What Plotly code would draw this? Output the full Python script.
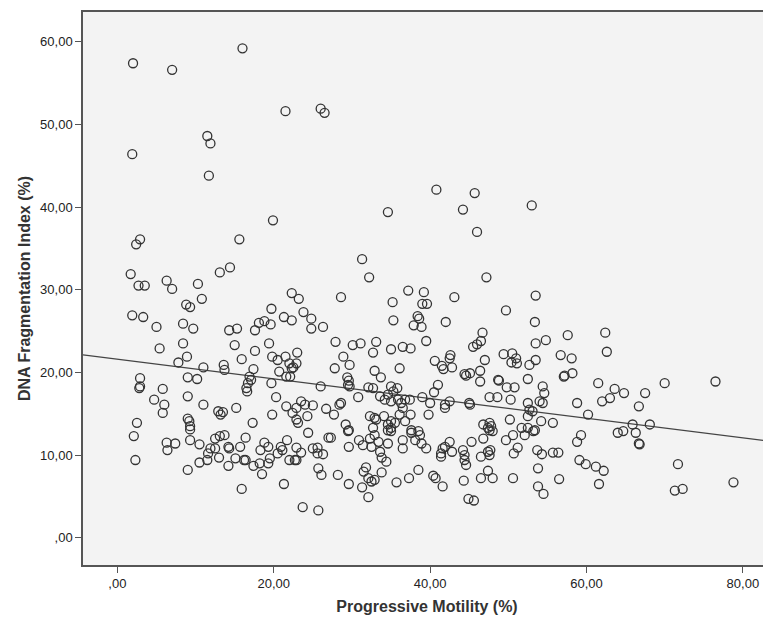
import plotly.graph_objects as go

# Progressive motility (%) and DNA fragmentation index (%)
motility = [
2.0,7.0,16.0,21.5,11.5,11.9,1.9,26.0,26.5,
11.7,19.9,2.9,2.4,15.6,14.4,13.1,1.7,2.7,3.5,6.3,7.0,10.3,22.3,
40.8,45.7,44.2,34.6,53.0,46.0,31.3,32.2,47.2,
10.8,8.8,9.3,1.9,3.3,5.0,8.4,9.7,5.4,8.4,8.9,7.8,11.0,13.6,13.7,15.0,15.9,14.3,15.3,17.6,18.1,18.8,19.6,19.7,21.3,22.3,23.2,23.8,24.8,24.8,19.4,17.6,19.8,20.5,21.5,23.0,22.0,22.5,22.9,22.3,20.7,21.6,22.1,17.4,16.9,17.1,16.7,16.5,16.6,19.7,2.9,2.9,2.8,9.0,10.2,5.8,9.0,4.7,6.0,5.8,11.0,12.9,13.5,13.2,15.2,20.3,21.6,23.5,24.0,22.9,22.4,22.9,23.1,24.3,19.8,17.3,2.5,9.0,9.2,9.3,
2.1,2.3,9.3,6.3,7.4,6.4,9.3,10.5,9.0,10.5,11.5,11.6,11.9,12.5,13.1,13.7,12.5,13.0,14.2,14.3,14.2,16.4,15.7,15.1,16.2,16.4,15.9,17.4,18.2,18.5,18.3,18.8,19.3,19.3,19.5,20.5,20.9,21.1,21.7,21.3,22.0,22.7,22.9,22.9,23.5,24.4,23.7,25.0,
28.6,37.2,39.2,43.1,35.2,39.0,39.6,35.3,38.4,38.6,37.9,38.9,42.0,49.7,53.4,26.3,27.9,30.1,31.1,33.1,32.7,35.0,36.5,37.5,39.5,46.7,46.5,46.0,45.5,28.9,29.7,27.8,32.9,33.7,36.1,40.6,41.5,41.7,42.6,42.5,42.8,44.4,44.6,45.1,46.4,46.4,47.0,48.7,48.8,49.4,50.5,51.0,51.1,50.4,52.7,52.5,53.5,53.5,49.8,50.8,50.3,47.6,48.6,45.1,45.0,42.5,41.9,41.9,41.0,40.5,40.0,39.0,39.8,35.8,35.0,34.6,35.3,33.6,34.2,35.0,35.9,36.8,37.4,32.1,32.7,30.8,29.4,29.6,29.5,29.7,26.0,25.0,26.7,27.7,28.4,28.6,29.2,29.6,32.3,32.9,33.1,34.1,32.7,34.6,35.0,35.5,35.0,36.3,36.5,36.1,36.8,37.5,37.6,38.5,47.6,47.8,47.4,46.8,50.2,51.7,52.5,52.5,52.7,52.5,
53.5,54.8,57.6,62.4,62.6,56.7,58.1,57.1,57.2,58.2,54.4,54.6,54.0,54.4,58.8,61.5,63.6,64.8,63.0,62.0,67.5,70.0,76.5,66.7,60.2,54.2,55.7,65.9,68.1,53.1,
53.4,59.3,58.8,64.0,64.7,66.3,66.7,66.8,53.7,54.3,55.7,56.4,53.8,59.1,59.9,61.2,62.2,56.5,61.6,53.8,54.5,71.7,71.3,72.3,78.8,
27.0,27.3,29.5,25.6,25.6,26.3,25.7,26.1,25.7,28.2,29.6,29.6,30.9,31.4,32.3,32.5,32.9,33.4,34.6,33.6,33.8,34.4,31.5,31.8,32.1,32.5,32.9,31.3,32.1,33.8,35.7,37.3,38.5,36.5,36.5,37.6,38.1,38.7,38.9,39.5,34.6,35.0,40.4,40.7,41.6,41.4,41.6,41.9,42.5,42.8,41.4,44.2,44.4,44.6,44.4,45.3,44.3,44.9,45.6,46.5,46.8,47.4,47.6,47.7,47.4,46.5,48.0,47.6,48.0,49.7,50.6,52.1,53.2,51.2,50.7,50.6,
]
dfi = [
57.4,56.6,59.2,51.6,48.6,47.7,46.4,51.9,51.4,
43.8,38.4,36.1,35.5,36.1,32.7,32.1,31.9,30.5,30.5,31.1,30.1,30.7,29.6,
42.1,41.7,39.7,39.4,40.2,37.0,33.7,31.5,31.5,
28.9,28.2,27.9,26.9,26.7,25.5,25.9,25.3,22.9,23.5,21.9,21.2,20.6,20.9,20.3,23.3,21.6,25.1,25.3,25.1,26.0,26.2,25.8,27.7,26.7,26.3,28.9,27.3,26.5,25.3,23.5,22.6,21.9,21.5,21.9,22.4,21.1,20.6,21.1,20.5,20.1,19.5,19.5,20.4,19.5,19.1,18.7,18.1,17.7,18.7,19.3,18.3,18.1,19.4,19.2,18.0,17.1,16.7,16.1,15.1,16.1,15.3,15.2,14.9,15.7,17.0,15.9,16.5,16.1,15.7,15.1,14.3,13.9,14.7,14.9,13.9,13.9,14.4,14.1,13.5,
12.3,9.4,13.1,11.5,11.4,10.6,11.8,11.3,8.2,9.1,9.4,10.2,10.8,12.0,12.3,12.4,10.8,9.7,11.0,10.8,8.7,12.1,11.0,9.6,9.4,9.4,5.9,8.7,9.0,7.7,10.6,11.5,11.0,9.0,9.6,10.2,11.0,10.6,11.8,6.5,9.4,9.4,9.4,10.9,10.3,12.7,3.7,10.8,
29.1,29.9,29.7,29.1,28.5,28.3,28.3,26.3,26.8,26.5,25.7,25.5,26.1,27.5,26.1,25.5,23.7,23.3,23.5,23.7,22.4,22.8,23.1,22.9,23.8,24.8,23.8,23.4,23.1,21.9,20.9,20.5,20.2,19.4,20.5,21.4,20.8,20.4,22.1,21.7,20.6,19.8,19.6,19.9,20.2,18.9,21.5,19.1,19.0,22.2,22.3,21.7,21.1,21.2,20.9,19.2,23.5,21.5,18.2,18.2,16.7,17.0,17.0,16.1,16.3,16.5,16.1,15.7,18.5,17.6,16.3,17.0,14.9,18.1,18.3,17.3,17.7,17.1,16.7,16.5,16.7,16.7,16.7,18.2,18.1,17.0,19.4,19.0,18.5,18.3,18.3,16.0,15.6,14.9,16.1,16.3,13.7,13.0,14.7,14.5,14.3,14.7,13.3,13.7,14.1,13.9,13.3,16.3,15.7,14.9,14.1,14.9,13.0,12.9,13.9,13.5,13.3,13.7,14.3,13.3,13.3,16.3,15.5,14.7,
29.3,23.9,24.5,24.8,22.5,22.1,21.7,19.5,19.6,19.9,18.3,17.5,16.5,16.3,16.3,18.7,18.0,17.5,16.9,16.5,17.5,18.7,18.9,15.9,14.9,14.1,13.9,13.7,13.7,15.3,
13.0,12.4,11.6,12.7,12.9,12.7,11.4,11.3,10.6,10.1,10.3,10.3,8.4,9.4,8.9,8.6,8.1,7.1,6.5,6.2,5.3,8.9,5.7,5.9,6.7,
12.1,12.1,12.9,10.9,10.2,10.1,8.4,7.6,3.3,7.6,11.0,6.5,11.8,11.2,12.0,11.0,12.4,11.6,11.4,10.4,9.7,9.2,8.0,8.5,7.2,6.8,7.0,6.1,4.9,7.9,6.7,7.2,8.2,11.8,10.8,12.7,11.8,12.4,11.4,10.8,13.0,12.9,7.5,7.2,6.2,10.2,10.8,11.0,11.6,10.4,9.8,10.6,9.4,8.8,10.0,11.6,6.9,4.7,4.5,9.8,12.0,10.4,10.0,10.6,8.1,7.2,7.2,13.0,12.9,11.8,12.4,12.4,12.9,10.9,10.2,7.2,
]

# Linear fit line (total)
fit_intercept = 21.6
fit_slope = -0.119

x_ticks = [0, 20, 40, 60, 80]
x_tick_labels = [",00", "20,00", "40,00", "60,00", "80,00"]
y_ticks = [0, 10, 20, 30, 40, 50, 60]
y_tick_labels = [",00", "10,00", "20,00", "30,00", "40,00", "50,00", "60,00"]

x_range = [-4.4, 83.6]
y_range = [-3.3, 63.6]

fig = go.Figure()
fig.add_trace(go.Scatter(
    x=x_range,
    y=[fit_intercept + fit_slope * v for v in x_range],
    mode="lines",
    line=dict(color="#444444", width=1.2),
    hoverinfo="skip",
    showlegend=False,
))
fig.add_trace(go.Scatter(
    x=motility, y=dfi, mode="markers",
    marker=dict(symbol="circle-open", size=9, color="#333333", line=dict(width=1.3)),
    showlegend=False,
))

axis_common = dict(
    showgrid=False, zeroline=False, showline=True, linecolor="#555555", linewidth=1.5,
    mirror=True, ticks="outside", ticklen=6, tickcolor="#555555",
    tickfont=dict(family="Liberation Sans, Arial", size=13, color="#222222"),
)
fig.update_layout(
    width=771, height=617,
    margin=dict(l=75, r=8, t=2, b=60),
    paper_bgcolor="white", plot_bgcolor="#f3f3f3",
    font=dict(family="Liberation Sans, Arial"),
    xaxis=dict(range=x_range, tickvals=x_ticks, ticktext=x_tick_labels,
               title=dict(text="<b>Progressive Motility (%)</b>", font=dict(size=16, color="#333333"), standoff=10),
               **axis_common),
    yaxis=dict(range=y_range, tickvals=y_ticks, ticktext=y_tick_labels,
               title=dict(text="<b>DNA Fragmentation Index (%)</b>", font=dict(size=16, color="#333333"), standoff=6),
               **axis_common),
)
fig.write_html("out.html")
